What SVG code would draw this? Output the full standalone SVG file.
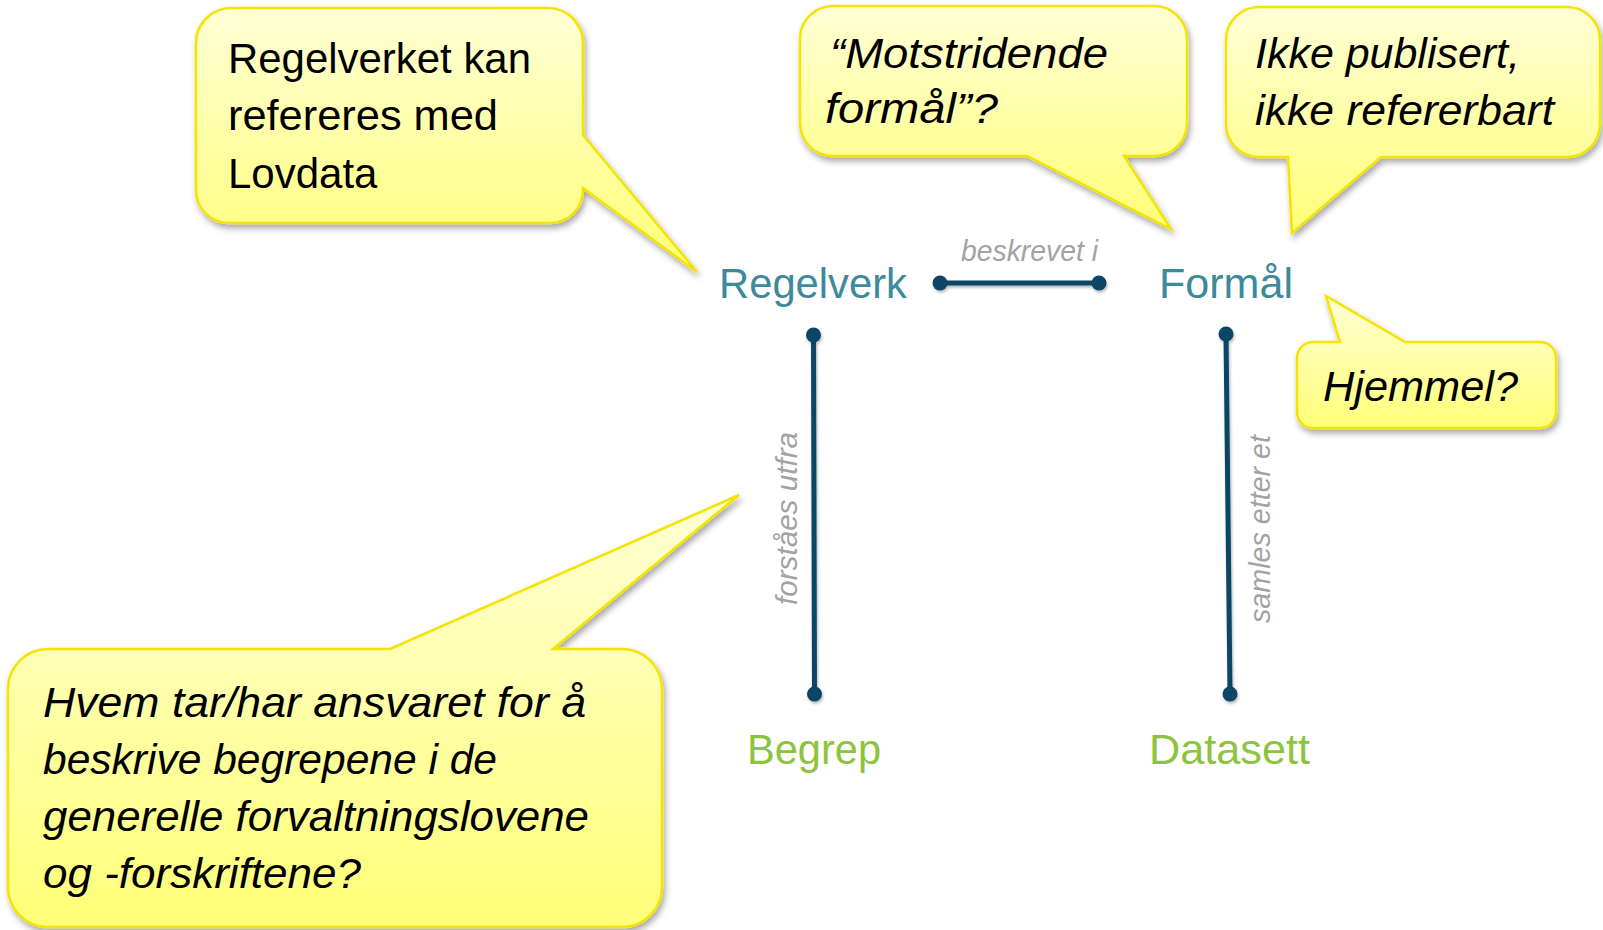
<svg xmlns="http://www.w3.org/2000/svg" width="1603" height="930" viewBox="0 0 1603 930">
<defs>
<linearGradient id="yel" x1="0" y1="0" x2="0" y2="1">
<stop offset="0" stop-color="#ffffd6"/>
<stop offset="1" stop-color="#ffff78"/>
</linearGradient>
<filter id="sh" x="-10%" y="-10%" width="125%" height="130%">
<feDropShadow dx="2" dy="4" stdDeviation="3" flood-color="#000" flood-opacity="0.35"/>
</filter>
<filter id="lsh" x="-10%" y="-10%" width="130%" height="130%">
<feDropShadow dx="1" dy="2" stdDeviation="1.5" flood-color="#000" flood-opacity="0.3"/>
</filter>
</defs>
<style>
.callout{fill:url(#yel);stroke:#f5e400;stroke-width:2.5;filter:url(#sh)}
.ct{font-family:"Liberation Sans",Arial,sans-serif;font-size:42px;fill:#000}
.ci{font-family:"Liberation Sans",Arial,sans-serif;font-size:43px;font-style:italic;fill:#000}
.node{font-family:"Liberation Sans",Arial,sans-serif;font-size:42px}
.teal{fill:#3d8a9a}
.green{fill:#8cc43c}
.conn{stroke:#0f4466;stroke-width:5;fill:none;stroke-linecap:round}
.dot{fill:#0f4466}
.lbl{font-family:"Liberation Sans",Arial,sans-serif;font-size:29px;font-style:italic;fill:#a3a3a3}
</style>

<g id="callout-lovdata">
<path class="callout" d="M231,8 H548 A35 35 0 0 1 583,43 V135 L697,272 L583,188 V190 A33 33 0 0 1 550,223 H229 A33 33 0 0 1 196,190 V43 A35 35 0 0 1 231,8 Z"/>
<text class="ct" x="228" y="73" textLength="303" lengthAdjust="spacingAndGlyphs">Regelverket kan</text>
<text class="ct" x="228" y="130" textLength="270" lengthAdjust="spacingAndGlyphs">refereres med</text>
<text class="ct" x="228" y="188">Lovdata</text>
</g>

<g id="callout-motstridende">
<path class="callout" d="M833,6 H1154 A33 33 0 0 1 1187,39 V123 A33 33 0 0 1 1154,156 H1124 L1171,229 L1027,156 H833 A33 33 0 0 1 800,123 V39 A33 33 0 0 1 833,6 Z"/>
<text class="ci" x="830" y="68" textLength="278" lengthAdjust="spacingAndGlyphs">“Motstridende</text>
<text class="ci" x="825" y="123" textLength="173" lengthAdjust="spacingAndGlyphs">formål”?</text>
</g>

<g id="callout-publisert">
<path class="callout" d="M1259,7 H1567 A33 33 0 0 1 1600,40 V124 A33 33 0 0 1 1567,157 H1381 L1292,233 L1288,157 H1259 A33 33 0 0 1 1226,124 V40 A33 33 0 0 1 1259,7 Z"/>
<text class="ci" x="1255" y="68" textLength="265" lengthAdjust="spacingAndGlyphs">Ikke publisert,</text>
<text class="ci" x="1255" y="125" textLength="299" lengthAdjust="spacingAndGlyphs">ikke refererbart</text>
</g>

<g id="callout-hjemmel">
<path class="callout" d="M1313,342 H1340 L1326,296 L1405,342 H1540 A16 16 0 0 1 1556,358 V412 A16 16 0 0 1 1540,428 H1313 A16 16 0 0 1 1297,412 V358 A16 16 0 0 1 1313,342 Z"/>
<text class="ci" x="1323" y="401" textLength="195" lengthAdjust="spacingAndGlyphs">Hjemmel?</text>
</g>

<g id="callout-ansvar">
<path class="callout" d="M48,649 H390 L739,495 L553,649 H622 A40 40 0 0 1 662,689 V887 A40 40 0 0 1 622,927 H48 A40 40 0 0 1 8,887 V689 A40 40 0 0 1 48,649 Z"/>
<text class="ci" x="43" y="717" textLength="543" lengthAdjust="spacingAndGlyphs">Hvem tar/har ansvaret for å</text>
<text class="ci" x="43" y="774" textLength="454" lengthAdjust="spacingAndGlyphs">beskrive begrepene i de</text>
<text class="ci" x="43" y="831" textLength="546" lengthAdjust="spacingAndGlyphs">generelle forvaltningslovene</text>
<text class="ci" x="43" y="888" textLength="318" lengthAdjust="spacingAndGlyphs">og -forskriftene?</text>
</g>

<g id="node-regelverk"><text class="node teal" x="719" y="298" textLength="188" lengthAdjust="spacingAndGlyphs">Regelverk</text></g>
<g id="node-formal"><text class="node teal" x="1159" y="298" textLength="134" lengthAdjust="spacingAndGlyphs">Formål</text></g>
<g id="node-begrep"><text class="node green" x="747" y="764" textLength="134" lengthAdjust="spacingAndGlyphs">Begrep</text></g>
<g id="node-datasett"><text class="node green" x="1149" y="764" textLength="161" lengthAdjust="spacingAndGlyphs">Datasett</text></g>

<g id="connectors">
<g filter="url(#lsh)">
<line class="conn" x1="940" y1="283" x2="1099" y2="283"/>
<circle class="dot" cx="940" cy="283" r="7.5"/>
<circle class="dot" cx="1099" cy="283" r="7.5"/>
<line class="conn" x1="813.5" y1="335" x2="814.5" y2="694"/>
<circle class="dot" cx="813.5" cy="335" r="7.5"/>
<circle class="dot" cx="814.5" cy="694" r="7.5"/>
<line class="conn" x1="1226" y1="334" x2="1230" y2="694"/>
<circle class="dot" cx="1226" cy="334" r="7.5"/>
<circle class="dot" cx="1230" cy="694" r="7.5"/>
</g>
<text class="lbl" x="961" y="261" textLength="137" lengthAdjust="spacingAndGlyphs">beskrevet i</text>
<text class="lbl" transform="translate(797,605) rotate(-90)" x="0" y="0" textLength="173" lengthAdjust="spacingAndGlyphs">forståes utfra</text>
<text class="lbl" transform="translate(1270,623) rotate(-90)" x="0" y="0" textLength="188" lengthAdjust="spacingAndGlyphs">samles etter et</text>
</g>
</svg>
